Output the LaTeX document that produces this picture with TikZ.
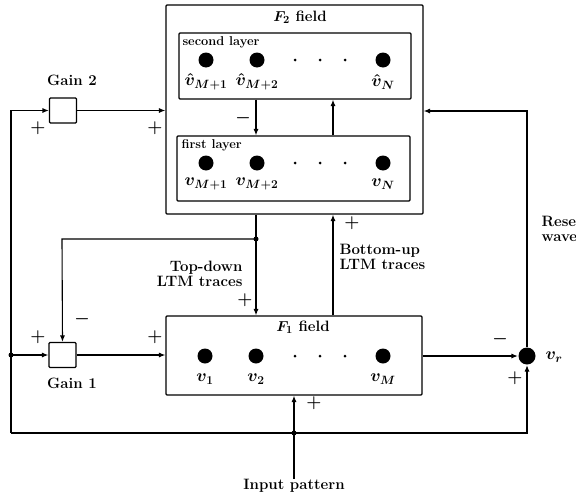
\documentclass[tikz,border=0pt]{standalone}
\usetikzlibrary{arrows.meta}
\begin{document}
\begin{tikzpicture}[x=1pt,y=-1pt,
  line width=1.1pt,
  >={Latex[length=6.5pt,width=5pt]},
  lbl/.style={font=\fontsize{15}{15.5}\selectfont\bfseries\boldmath, inner sep=0pt},
  mlbl/.style={font=\fontsize{16.5}{16}\selectfont\boldmath, inner sep=0pt},
  small/.style={font=\fontsize{12.8}{14}\selectfont\bfseries, inner sep=0pt},
  box/.style={draw, rounded corners=1pt, inner sep=0pt},
  neuron/.style={circle, fill, inner sep=0pt, minimum size=15pt},
  pdot/.style={circle, fill, inner sep=0pt, minimum size=3pt},
  jdot/.style={circle, fill, inner sep=0pt, minimum size=5pt},
  sgn/.style={font=\fontsize{17}{16}\selectfont\boldmath, inner sep=0pt}]
\useasboundingbox (0,0) rectangle (576,498);

% boxes
\node[box, minimum width=257pt, minimum height=209pt] (f2) at (294.5,109.5) {};
\node[box, minimum width=232pt, minimum height=66pt] (l2) at (295,66) {};
\node[box, minimum width=233pt, minimum height=65pt] (l1) at (293.5,168.5) {};
\node[box, minimum width=256pt, minimum height=79pt] (f1) at (294,355.5) {};
\node[box, minimum width=27pt, minimum height=25pt] (g2) at (63,110.5) {};
\node[box, minimum width=27pt, minimum height=25pt] (g1) at (62.5,355) {};
\node[circle, fill, inner sep=0pt, minimum size=17pt] (vr) at (527,356) {};

% titles
\node[lbl] (f2t) at (300,17) {$F_2$ field};
\node[lbl] (f1t) at (303,327) {$F_1$ field};
\node[small, anchor=west] (l2t) at (182,42) {second layer};
\node[small, anchor=west] (l1t) at (181,145) {first layer};

% second layer neurons
\node[neuron] (a1) at (206,60) {};
\node[neuron] (a2) at (257,60) {};
\node[neuron] (aN) at (383,60) {};
\node[pdot] (ad1) at (295,60) {};
\node[pdot] (ad2) at (320,60) {};
\node[pdot] (ad3) at (345,60) {};
\node[mlbl] (a1l) at (206,82) {$\hat{v}_{M+1}$};
\node[mlbl] (a2l) at (257,82) {$\hat{v}_{M+2}$};
\node[mlbl] (aNl) at (383,82) {$\hat{v}_N$};

% first layer neurons
\node[neuron] (b1) at (206,163) {};
\node[neuron] (b2) at (257,163) {};
\node[neuron] (bN) at (383,163) {};
\node[pdot] (bd1) at (295,163) {};
\node[pdot] (bd2) at (320,163) {};
\node[pdot] (bd3) at (345,163) {};
\node[mlbl] (b1l) at (206,184) {$v_{M+1}$};
\node[mlbl] (b2l) at (257,184) {$v_{M+2}$};
\node[mlbl] (bNl) at (383,184) {$v_N$};

% F1 neurons
\node[neuron] (c1) at (205,356) {};
\node[neuron] (c2) at (256,356) {};
\node[neuron] (cM) at (383,356) {};
\node[pdot] (cd1) at (295,356) {};
\node[pdot] (cd2) at (320,356) {};
\node[pdot] (cd3) at (345,356) {};
\node[mlbl] (c1l) at (205,379) {$v_1$};
\node[mlbl] (c2l) at (256,379) {$v_2$};
\node[mlbl] (cMl) at (383,379) {$v_M$};

% other labels
\node[lbl] (g2t) at (72,80) {Gain 2};
\node[lbl] (g1t) at (72,383) {Gain 1};
\node[lbl, anchor=east, align=right] (tdt) at (243,274) {Top-down\\LTM traces};
\node[lbl, anchor=west, align=left] (but) at (339,257) {Bottom-up\\LTM traces};
\node[lbl, anchor=west, align=left] (rst) at (541,229) {Reset\\wave};
\node[mlbl, anchor=west] (vrl) at (545,357) {$v_r$};
\node[lbl] (inp) at (294,486) {Input pattern};

% helper coordinates
\coordinate (tdx) at (256,0);
\coordinate (bux) at (333,0);
\coordinate (cbl) at (11,433);
\coordinate (cr) at (527,111);
\coordinate (tdc) at (62,239);
\node[jdot] (jtd) at (256,239) {};
\node[jdot] (jleft) at (11,355) {};
\node[jdot] (jin) at (294,433) {};

% connectors
\draw[->] (l2.south -| tdx) -- (l1.north -| tdx);
\draw[->] (l1.north -| bux) -- (l2.south -| bux);
\draw[->] (f2.south -| tdx) -- (f1.north -| tdx);
\draw[->] (f1.north -| bux) -- (f2.south -| bux);
\draw[->] (jtd.center) -- (tdc) -- (g1.north);
\draw[->] (cbl) |- (g2.west);
\draw[->] (g2.east) -- (f2.west |- g2.east);
\draw[->] (jleft.center) -- (g1.west);
\draw[->] (g1.east) -- (f1.west |- g1.east);
\draw[->] (cbl) -| (vr.south);
\draw[->] (inp.north) -- (f1.south);
\draw[->] (f1.east |- vr.west) -- (vr.west);
\draw[->] (vr.north) -- (cr) -- (f2.east |- cr);

% signs
\node[sgn] (p1) at (38,128) {$+$};
\node[sgn] (p2) at (155,128) {$+$};
\node[sgn] (p3) at (38,337) {$+$};
\node[sgn] (p4) at (155,337) {$+$};
\node[sgn] (p5) at (245,300) {$+$};
\node[sgn] (p6) at (352,223) {$+$};
\node[sgn] (p7) at (314,403) {$+$};
\node[sgn] (p8) at (515,378) {$+$};
\node[sgn] (m1) at (82,319) {$-$};
\node[sgn] (m2) at (243,118) {$-$};
\node[sgn] (m3) at (500,339) {$-$};
\end{tikzpicture}
\end{document}
